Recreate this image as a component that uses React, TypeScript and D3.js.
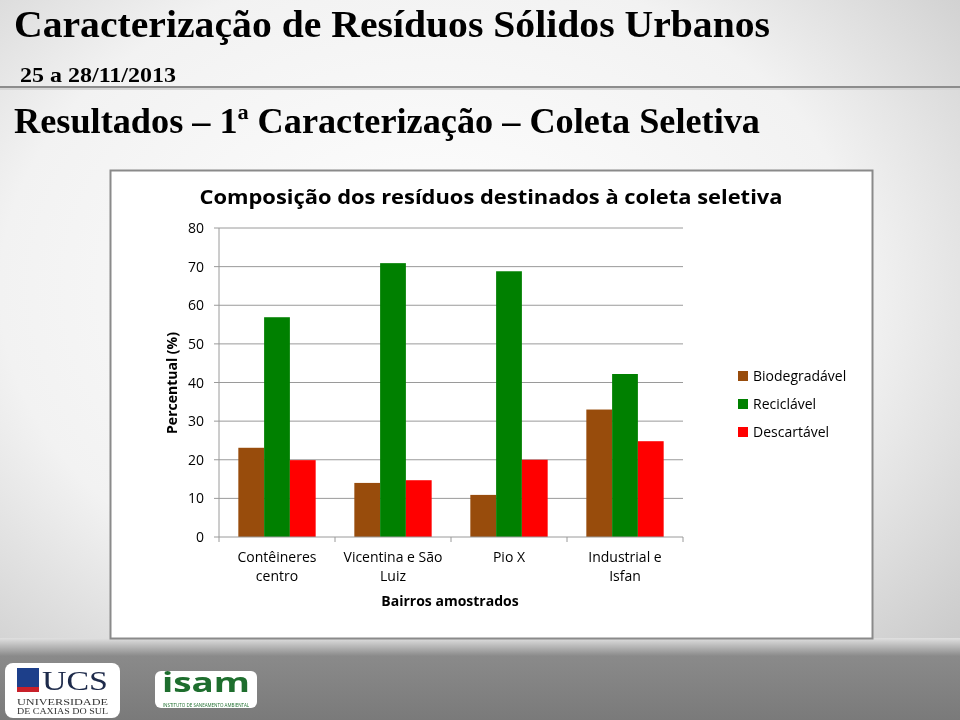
import React from "react";
import * as d3 from "d3";

const categories = [["Contêineres", "centro"], ["Vicentina e São", "Luiz"], ["Pio X"], ["Industrial e", "Isfan"]];
const seriesNames = ["Biodegradável", "Reciclável", "Descartável"];
const seriesColors = ["#984C0C", "#008000", "#FF0000"];
const biodegradavel = [23.1, 14.0, 10.9, 33.0];
const reciclavel = [56.9, 70.9, 68.8, 42.2];
const descartavel = [19.9, 14.7, 20.0, 24.8];
const yTicks = [0, 10, 20, 30, 40, 50, 60, 70, 80];

export default function App() {
  const values = [biodegradavel, reciclavel, descartavel];
  const catKeys = categories.map((c) => c.join(" "));
  const y = d3.scaleLinear().domain([0, 80]).range([537, 228]);
  const x0 = d3.scaleBand<string>().domain(catKeys).range([219, 683]).padding(0);
  const x1 = d3
    .scaleBand<string>()
    .domain(seriesNames)
    .range([0, x0.bandwidth()])
    .paddingInner(0)
    .paddingOuter(0.75);
  const sans = "'Open Sans', 'Noto Sans', sans-serif";
  const serif = "'Liberation Serif', 'DejaVu Serif', serif";
  const boundaries = [...catKeys.map((k) => x0(k) as number), 683];

  return (
    <svg width={960} height={720} style={{ position: "fixed", left: 0, top: 0 }}>
      <defs>
        <radialGradient id="bg" cx="45%" cy="40%" r="75%">
          <stop offset="0%" stopColor="#ffffff" />
          <stop offset="60%" stopColor="#f2f2f2" />
          <stop offset="100%" stopColor="#c8c8c8" />
        </radialGradient>
        <linearGradient id="band" x1="0" y1="0" x2="0" y2="1">
          <stop offset="0%" stopColor="#e0e0e0" />
          <stop offset="22%" stopColor="#8a8a8a" />
          <stop offset="100%" stopColor="#7a7a7a" />
        </linearGradient>
      </defs>
      <rect x={0} y={0} width={960} height={720} fill="url(#bg)" />
      <rect x={0} y={638} width={960} height={82} fill="url(#band)" />
      <line x1={0} x2={960} y1={87} y2={87} stroke="#8c8c8c" strokeWidth={2} />
      <line x1={0} x2={960} y1={89} y2={89} stroke="#d6d6d6" strokeWidth={2} />

      <text x={14} y={37} fontFamily={serif} fontSize={37} fontWeight="bold" textLength={756} lengthAdjust="spacingAndGlyphs" fill="#000">
        Caracterização de Resíduos Sólidos Urbanos
      </text>
      <text x={20} y={82} fontFamily={serif} fontSize={21} fontWeight="bold" textLength={156} lengthAdjust="spacingAndGlyphs" fill="#000">
        25 a 28/11/2013
      </text>
      <text x={14} y={133} fontFamily={serif} fontSize={35} fontWeight="bold" textLength={746} lengthAdjust="spacingAndGlyphs" fill="#000">
        Resultados – 1ª Caracterização – Coleta Seletiva
      </text>

      <rect x={110.5} y={170.5} width={762} height={468} fill="#ffffff" stroke="#8a8a8a" strokeWidth={2} />

      <text x={491} y={204} textAnchor="middle" fontFamily={sans} fontSize={19} fontWeight="bold" textLength={583} lengthAdjust="spacingAndGlyphs" fill="#000">
        Composição dos resíduos destinados à coleta seletiva
      </text>

      {yTicks.map((t) => (
        <g key={t}>
          {t > 0 && <line x1={219} x2={683} y1={y(t)} y2={y(t)} stroke="#9a9a9a" strokeWidth={1} />}
          <line x1={214} x2={219} y1={y(t)} y2={y(t)} stroke="#9a9a9a" strokeWidth={1} />
          <text x={204} y={y(t) + 5} textAnchor="end" fontFamily={sans} fontSize={14} fill="#000">
            {t}
          </text>
        </g>
      ))}
      <line x1={219} x2={219} y1={228} y2={537} stroke="#9a9a9a" strokeWidth={1} />

      {catKeys.map((k, ci) => (
        <g key={k}>
          {seriesNames.map((s, si) => (
            <rect
              key={s}
              x={(x0(k) as number) + (x1(s) as number)}
              y={y(values[si][ci])}
              width={x1.bandwidth()}
              height={y(0) - y(values[si][ci])}
              fill={seriesColors[si]}
            />
          ))}
        </g>
      ))}

      <line x1={219} x2={683} y1={537} y2={537} stroke="#9a9a9a" strokeWidth={1} />
      {boundaries.map((b, i) => (
        <line key={i} x1={b} x2={b} y1={537} y2={542} stroke="#9a9a9a" strokeWidth={1} />
      ))}

      {catKeys.map((k, ci) => (
        <text key={k} textAnchor="middle" fontFamily={sans} fontSize={14} fill="#000">
          {categories[ci].map((line, li) => (
            <tspan key={li} x={(x0(k) as number) + x0.bandwidth() / 2} y={562 + li * 19}>
              {line}
            </tspan>
          ))}
        </text>
      ))}

      <text x={450} y={606} textAnchor="middle" fontFamily={sans} fontSize={14} fontWeight="bold" fill="#000">
        Bairros amostrados
      </text>
      <text
        transform="translate(177,383) rotate(-90)"
        textAnchor="middle"
        fontFamily={sans}
        fontSize={14}
        fontWeight="bold"
        fill="#000"
      >
        Percentual (%)
      </text>

      {seriesNames.map((s, i) => (
        <g key={s} transform={`translate(738, ${371 + i * 28})`}>
          <rect x={0} y={0} width={10} height={10} fill={seriesColors[i]} />
          <text x={15} y={10} fontFamily={sans} fontSize={14} fill="#000">
            {s}
          </text>
        </g>
      ))}

      {/* logos */}
      <rect x={5} y={663} width={115} height={55} rx={8} fill="#ffffff" />
      <rect x={17} y={668} width={22} height={19} fill="#1d3f8a" />
      <rect x={17} y={687} width={22} height={5} fill="#c8202a" />
      <text x={42} y={690} fontFamily={serif} fontSize={27} fill="#1d2a4a" textLength={66} lengthAdjust="spacingAndGlyphs">UCS</text>
      <text x={17} y={705} fontFamily={serif} fontSize={9} fill="#333" textLength={91} lengthAdjust="spacingAndGlyphs">UNIVERSIDADE</text>
      <text x={17} y={714} fontFamily={serif} fontSize={8} fill="#333" textLength={91} lengthAdjust="spacingAndGlyphs">DE CAXIAS DO SUL</text>
      <rect x={155} y={671} width={102} height={37} rx={6} fill="#ffffff" />
      <text x={206} y={692} textAnchor="middle" fontFamily={sans} fontSize={26} fontWeight="bold" fill="#1e6e2e" textLength={88} lengthAdjust="spacingAndGlyphs">isam</text>
      <text x={206} y={706.5} textAnchor="middle" fontFamily={sans} fontSize={4.5} fill="#1e6e2e">INSTITUTO DE SANEAMENTO AMBIENTAL</text>
    </svg>
  );
}
